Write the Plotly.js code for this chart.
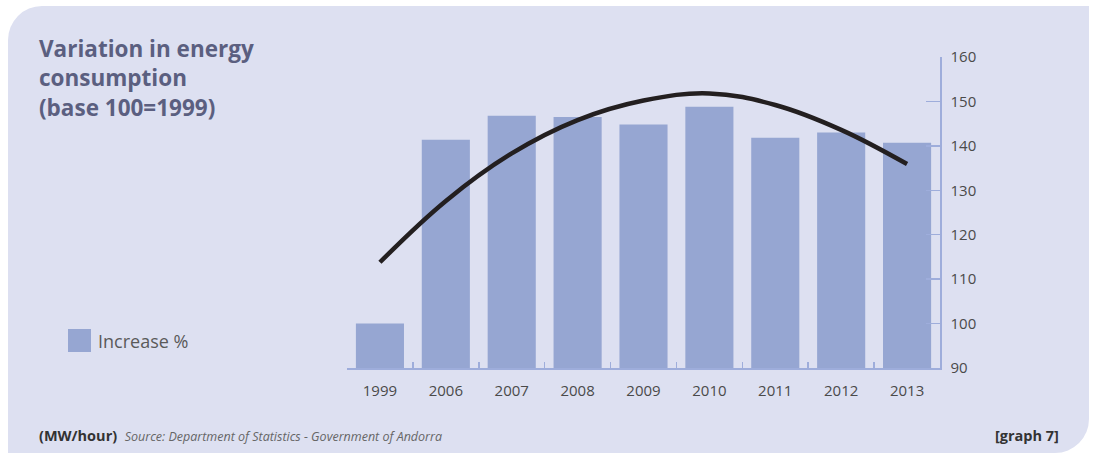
<!DOCTYPE html>
<html>
<head>
<meta charset="utf-8">
<script src="https://cdn.plot.ly/plotly-3.0.1.min.js"></script>
<style>
  html, body { margin:0; padding:0; background:#ffffff; }
  #wrap { position:relative; width:1095px; height:457px; }
  #panel { position:absolute; left:8px; top:6px; width:1081px; height:447px; background:#dde0f1;
           border-top-left-radius:34px; border-bottom-right-radius:34px; }
  #chart { position:absolute; left:0; top:0; width:1095px; height:457px; }
</style>
</head>
<body>
<div id="wrap">
  <div id="panel"></div>
  <div id="chart"></div>
</div>
<script>
const years = ['1999','2006','2007','2008','2009','2010','2011','2012','2013'];
const increase = [100, 141.4, 146.8, 146.5, 144.8, 148.8, 141.8, 143.0, 140.7];
const trend = [113.8, 127.6, 138.3, 145.8, 150.2, 151.8, 149.2, 143.6, 135.9];
const yTicks = [90, 100, 110, 120, 130, 140, 150, 160];

const L = 347, R = 940, T = 57, B = 368;
const W = 1095, H = 457;
const px = x => (x - L) / (R - L);
const py = y => (B - y) / (B - T);

const barColor = '#96a6d2';
const axisColor = '#9eaddb';
const font = '"Open Sans", "Noto Sans", sans-serif';

const traces = [
  { type:'bar', x: years, y: increase, name:'Increase %', marker:{color:barColor}, showlegend:false, hoverinfo:'x+y' },
  { type:'scatter', mode:'lines', x: years, y: trend, line:{color:'#231f20', width:4.5, shape:'spline', smoothing:1.1}, showlegend:false, hoverinfo:'skip' }
];

const layout = {
  width: W, height: H,
  margin: {l: L, r: W - R, t: T, b: H - B, pad: 0},
  paper_bgcolor: 'rgba(0,0,0,0)',
  plot_bgcolor: 'rgba(0,0,0,0)',
  bargap: 0.27,
  font: {family: font, color:'#444444'},
  xaxis: {
    type:'category', showgrid:false, zeroline:false,
    showline:true, linecolor:axisColor, linewidth:1.5,
    ticks:'inside', tickson:'boundaries', ticklen:6, tickcolor:axisColor, tickwidth:1.5,
    tickfont:{size:15, color:'#4a4a4a', family:font}, ticklabelstandoff:8,
    fixedrange:true
  },
  yaxis: {
    side:'right', range:[90,160], tickvals: yTicks, showgrid:false, zeroline:false,
    showline:true, linecolor:axisColor, linewidth:1.5,
    ticks:'inside', ticklen:14, tickcolor:axisColor, tickwidth:1.5,
    tickfont:{size:15, color:'#4a4a4a', family:font}, ticklabelstandoff:6,
    fixedrange:true
  },
  shapes: [
    { type:'rect', xref:'paper', yref:'paper', x0: px(68), x1: px(91), y0: py(352), y1: py(329), fillcolor: barColor, line:{width:0} }
  ],
  annotations: [
    { xref:'paper', yref:'paper', x: px(37), y: py(31), xanchor:'left', yanchor:'top', align:'left', showarrow:false,
      text:'<b>Variation in energy<br>consumption<br>(base 100=1999)</b>',
      font:{family:font, size:22.5, color:'#5b5f80'} },
    { xref:'paper', yref:'paper', x: px(96), y: py(341), xanchor:'left', yanchor:'middle', showarrow:false,
      text:'Increase %', font:{family:font, size:18, color:'#5a5a5a'} },
    { xref:'paper', yref:'paper', x: px(37), y: py(435), xanchor:'left', yanchor:'middle', showarrow:false,
      text:'<b>(MW/hour)</b>  <i><span style="color:#666666;font-size:12.5px">Source: Department of Statistics - Government of Andorra</span></i>',
      font:{family:font, size:14.5, color:'#333333'} },
    { xref:'paper', yref:'paper', x: px(1061), y: py(435), xanchor:'right', yanchor:'middle', showarrow:false,
      text:'<b>[graph 7]</b>', font:{family:font, size:14.5, color:'#333333'} }
  ]
};

Plotly.newPlot('chart', traces, layout, {displayModeBar:false, staticPlot:true});
</script>
</body>
</html>
